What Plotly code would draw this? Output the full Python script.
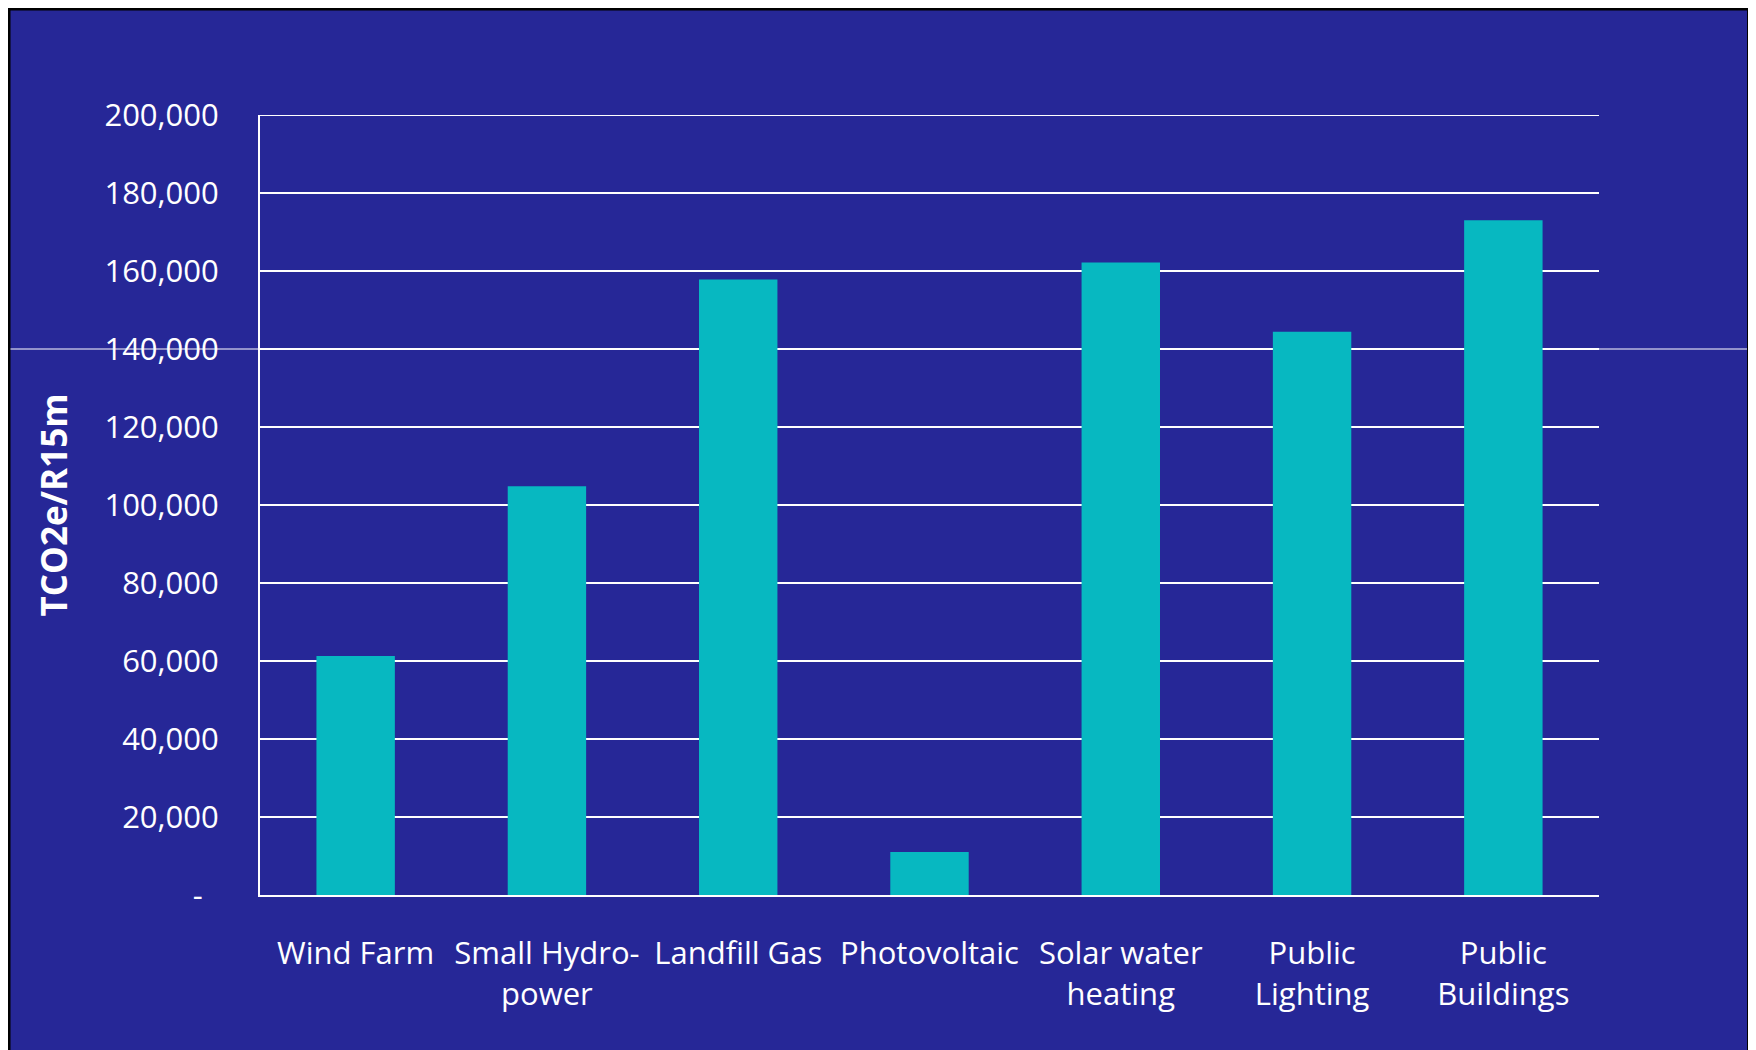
import plotly.graph_objects as go

categories = ["Wind Farm", "Small Hydro-<br>power", "Landfill Gas", "Photovoltaic",
              "Solar water<br>heating", "Public<br>Lighting", "Public<br>Buildings"]
values = [61300, 104800, 157800, 11000, 162200, 144400, 173000]
tick_vals = [0, 20000, 40000, 60000, 80000, 100000, 120000, 140000, 160000, 180000, 200000]
tick_text = ["-\u00a0\u00a0"] + [f"{v:,}" for v in tick_vals[1:]]

W, H = 1756, 1050
L, R, T, B = 252, 165, 107, 163
pw = W - L - R
ph = H - T - B

BLUE = "#262797"
BAR = "#07B8C1"
FONT = "Open Sans"

fig = go.Figure(go.Bar(x=categories, y=values, marker=dict(color=BAR, line=dict(width=0)),
                       width=0.41))

def px_x(p):
    return (p - L) / pw

def px_y(p):
    return (H - B - p) / ph

fig.update_layout(
    width=W, height=H,
    margin=dict(l=L, r=R, t=T, b=B, pad=0),
    paper_bgcolor="white",
    plot_bgcolor="rgba(0,0,0,0)",
    showlegend=False,
    font=dict(family=FONT, color="white", size=31),
    shapes=[
        dict(type="rect", xref="paper", yref="paper", layer="below",
             x0=px_x(1), x1=px_x(1740.5), y0=px_y(1), y1=px_y(1070),
             fillcolor=BLUE, line=dict(color="black", width=3)),
        dict(type="line", xref="paper", yref="y", layer="below",
             x0=px_x(2.5), x1=px_x(1739), y0=140000, y1=140000,
             line=dict(color="white", width=1)),
        dict(type="line", xref="paper", yref="y", layer="below",
             x0=0, x1=1, y0=tick_vals[-1], y1=tick_vals[-1],
             line=dict(color="white", width=2)),
    ],
)

fig.update_xaxes(
    showgrid=False, showline=True, linecolor="white", linewidth=2,
    ticks="", tickfont=dict(family=FONT, size=31, color="white"),
    ticklabelstandoff=30, tickangle=0,
)
fig.update_yaxes(
    range=[0, 200000], tickvals=tick_vals, ticktext=tick_text,
    showgrid=True, gridcolor="white", gridwidth=2,
    showline=True, linecolor="white", linewidth=2,
    zeroline=False, ticks="", ticklabelstandoff=33,
    tickfont=dict(family=FONT, size=31, color="white"),
    title=dict(text="<b>TCO2e/R15m</b>", font=dict(family=FONT, size=35, color="white"),
               standoff=26),
)

fig.write_html("out.html")
